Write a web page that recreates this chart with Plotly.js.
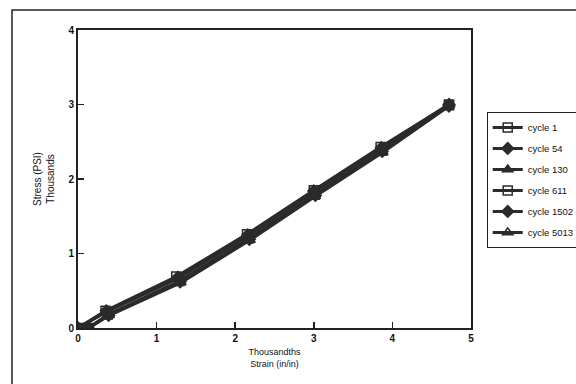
<!DOCTYPE html>
<html>
<head>
<meta charset="utf-8">
<script src="https://cdn.plot.ly/plotly-3.0.1.min.js"></script>
<style>html,body{margin:0;padding:0;background:#fff;}#chart{width:576px;height:384px;}</style>
</head>
<body>
<div id="chart"></div>
<script>
// Strain (thousandths in/in) and stress (thousands PSI)
var seriesNames = ["cycle 1", "cycle 54", "cycle 130", "cycle 611", "cycle 1502", "cycle 5013"];
var strain_c1    = [0, 0.35, 1.25, 2.15, 3.00, 3.85, 4.72];
var stress_c1    = [0, 0.23, 0.69, 1.26, 1.85, 2.43, 3.00];
var strain_c54   = [0, 0.36, 1.27, 2.16, 3.00, 3.86, 4.72];
var stress_c54   = [0, 0.23, 0.68, 1.25, 1.84, 2.42, 3.00];
var strain_c130  = [0, 0.37, 1.28, 2.17, 3.01, 3.86, 4.72];
var stress_c130  = [0, 0.22, 0.67, 1.24, 1.83, 2.41, 3.00];
var strain_c611  = [0.13, 0.38, 1.29, 2.17, 3.01, 3.87, 4.72];
var stress_c611  = [0, 0.18, 0.63, 1.20, 1.79, 2.38, 2.99];
var strain_c1502 = [0.13, 0.39, 1.30, 2.18, 3.02, 3.87, 4.72];
var stress_c1502 = [0, 0.17, 0.62, 1.19, 1.78, 2.37, 2.98];
var strain_c5013 = [0.14, 0.40, 1.31, 2.19, 3.02, 3.88, 4.72];
var stress_c5013 = [0, 0.17, 0.61, 1.18, 1.77, 2.36, 2.98];
var xTicks = [0, 1, 2, 3, 4, 5];
var yTicks = [0, 1, 2, 3, 4];

var xs = [strain_c1, strain_c54, strain_c130, strain_c611, strain_c1502, strain_c5013];
var ys = [stress_c1, stress_c54, stress_c130, stress_c611, stress_c1502, stress_c5013];
var symbols = ["square-open", "diamond", "triangle-up", "square-open", "diamond", "triangle-up-open"];

var ink = "#2b2b2b";
var traces = seriesNames.map(function (n, i) {
  return {
    x: xs[i], y: ys[i], name: n, type: "scatter", mode: "lines+markers",
    legendgroup: "g" + i,
    line: {color: ink, width: 3},
    marker: {symbol: symbols[i], size: 9, color: ink, line: {color: ink, width: 1.5}}
  };
});

var layout = {
  width: 576, height: 384,
  paper_bgcolor: "#ffffff", plot_bgcolor: "#ffffff",
  margin: {l: 78, r: 105, t: 30, b: 56, autoexpand: false},
  font: {family: "Liberation Sans, Arial, sans-serif", color: "#111"},
  showlegend: true,
  legend: {
    x: 1.04, y: 0.725, xanchor: "left", yanchor: "top",
    bordercolor: "#222", borderwidth: 1, bgcolor: "#ffffff",
    font: {size: 9.5, color: "#111"}, itemwidth: 30,
    traceorder: "grouped", tracegroupgap: 2
  },
  xaxis: {
    range: [0, 5], tickvals: xTicks, ticktext: xTicks.map(String),
    ticks: "inside", ticklen: 6, tickwidth: 1.5, tickcolor: "#222",
    showline: true, linecolor: "#222", linewidth: 2, mirror: true,
    showgrid: false, zeroline: false,
    tickfont: {size: 10, weight: "bold", color: "#111"},
    title: {text: "Thousandths<br>Strain (in/in)", font: {size: 9, color: "#111"}, standoff: 6}
  },
  yaxis: {
    range: [0, 4], tickvals: yTicks, ticktext: yTicks.map(String),
    ticks: "inside", ticklen: 6, tickwidth: 1.5, tickcolor: "#222",
    showline: true, linecolor: "#222", linewidth: 2, mirror: true,
    showgrid: false, zeroline: false,
    tickfont: {size: 10, weight: "bold", color: "#111"},
    title: {text: "Stress (PSI)<br>Thousands", font: {size: 10, color: "#111"}, standoff: 12}
  },
  shapes: [{
    type: "rect", xref: "paper", yref: "paper",
    x0: -0.168, x1: 1.3, y0: -0.25, y1: 1.067,
    line: {color: "#222", width: 1.5}
  }]
};

Plotly.newPlot("chart", traces, layout, {displayModeBar: false, staticPlot: true});
</script>
</body>
</html>
